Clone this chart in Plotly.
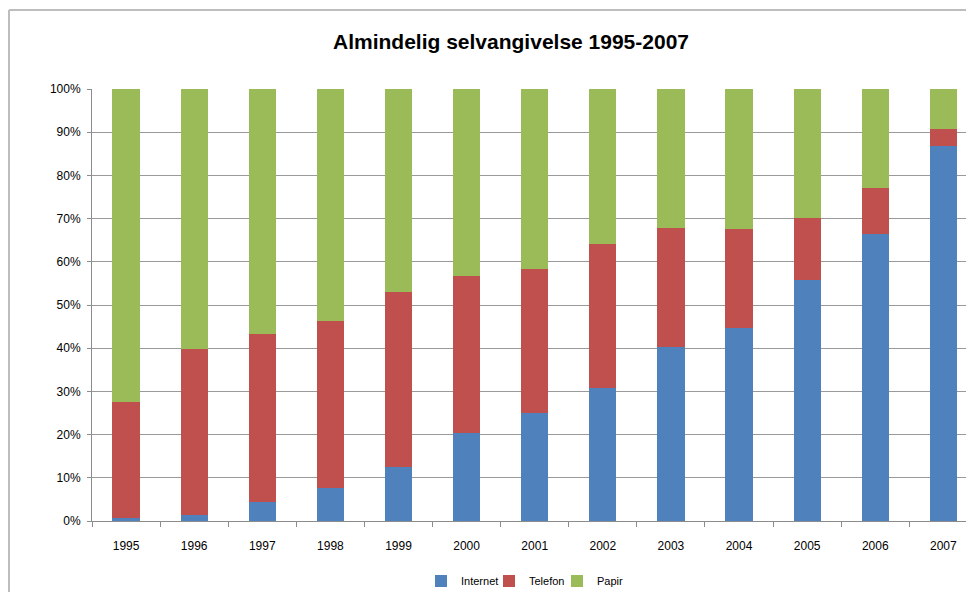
import plotly.graph_objects as go

years = ["1995", "1996", "1997", "1998", "1999", "2000", "2001",
         "2002", "2003", "2004", "2005", "2006", "2007"]
internet = [0.6, 1.5, 4.3, 7.6, 12.5, 20.3, 24.9, 30.9, 40.2, 44.6, 55.7, 66.4, 86.7]
telefon = [27.0, 38.4, 39.1, 38.7, 40.4, 36.3, 33.5, 33.3, 27.7, 23.1, 14.5, 10.6, 4.1]
papir = [round(100 - a - b, 1) for a, b in zip(internet, telefon)]

series = [("Internet", internet, "#4F81BD"),
          ("Telefon", telefon, "#C0504D"),
          ("Papir", papir, "#9BBB59")]

fig = go.Figure()
for name, vals, col in series:
    fig.add_trace(go.Bar(x=years, y=vals, name=name, marker_color=col,
                         marker_line_width=0))

# page has an 8px body margin; figure is sized to fill the rest of the window
W, H = 966, 584
L, R, T, B = 84, 0, 81, 71
ph = H - T - B
pw = W - L - R

fig.update_layout(
    width=W, height=H,
    barmode="stack", bargap=0.6,
    plot_bgcolor="white", paper_bgcolor="white",
    margin=dict(l=L, r=R, t=T, b=B, autoexpand=False),
    font=dict(family="Liberation Sans", size=11, color="#000000"),
    title=dict(text="<b>Almindelig selvangivelse 1995-2007</b>",
               x=503 / W, xanchor="center", y=1 - 34 / H, yanchor="middle",
               font=dict(size=21, family="Liberation Sans")),
    legend=dict(orientation="h", x=(515 - L) / pw, xanchor="center",
                y=-(573 - (T + ph)) / ph, yanchor="middle",
                font=dict(size=11), itemwidth=30, traceorder="normal",
                entrywidth=23, entrywidthmode="pixels"),
    showlegend=True,
)
fig.update_xaxes(type="category", range=[-0.5, 12.45], showgrid=False,
                 showline=True, linecolor="#8C8C8C", linewidth=1,
                 ticks="outside", tickson="boundaries", ticklen=5,
                 tickcolor="#8C8C8C", tickfont=dict(size=12),
                 ticklabelstandoff=14, automargin=False)
fig.update_yaxes(range=[0, 100], dtick=10, ticksuffix="%",
                 showgrid=True, gridcolor="#9A9A9A", gridwidth=1,
                 showline=True, linecolor="#8C8C8C", linewidth=1,
                 ticks="outside", ticklen=4, tickcolor="#8C8C8C",
                 tickfont=dict(size=12), zeroline=False,
                 ticklabelstandoff=4, automargin=False)

# outer chart border (left and top edges)
x0 = (1 - L) / pw
y1 = 1 + (T - 2) / ph
fig.add_shape(type="line", xref="paper", yref="paper", x0=x0, x1=x0,
              y0=-B / ph - 0.02, y1=y1, line=dict(color="#BDBDBD", width=2))
fig.add_shape(type="line", xref="paper", yref="paper", x0=x0, x1=1.01,
              y0=y1, y1=y1, line=dict(color="#BDBDBD", width=2))

fig.write_html("out.html")
